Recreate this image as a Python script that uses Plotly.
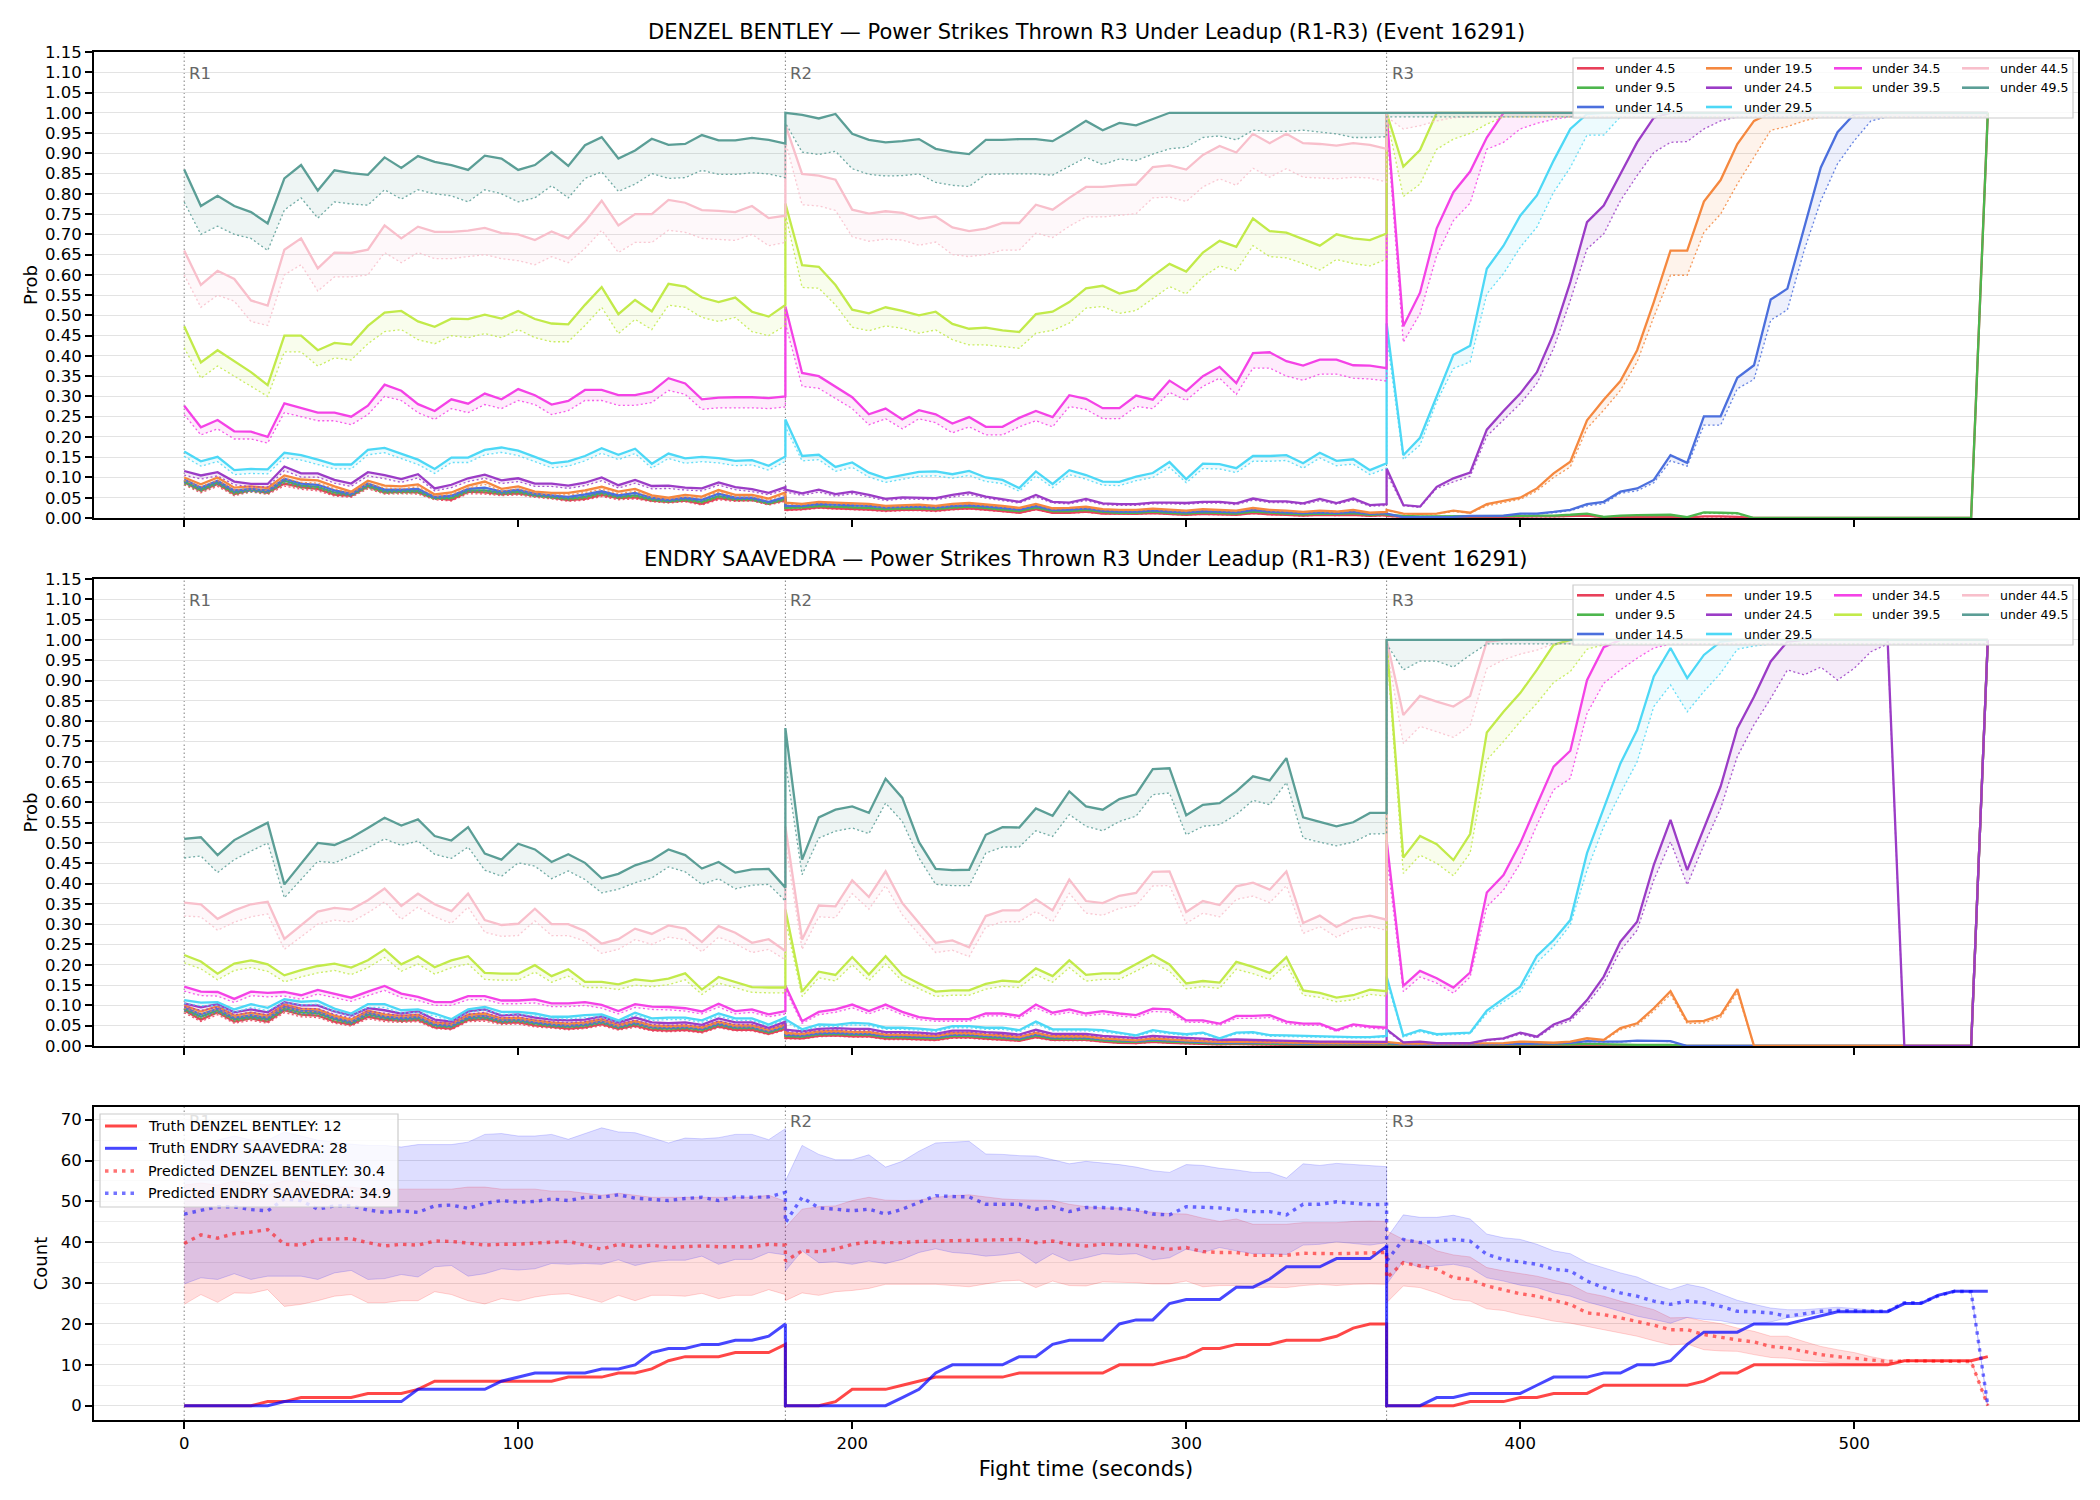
import plotly.graph_objects as go

# ---------------------------------------------------------------- time grid
STEP_TIMES = list(range(0, 181, 5))
ROUND_STARTS = [0, 180, 360]
ROUND_LABELS = ["R1", "R2", "R3"]
TIME = [s + t for s in ROUND_STARTS for t in STEP_TIMES]

THRESHOLDS = ["under 4.5", "under 9.5", "under 14.5", "under 19.5", "under 24.5",
              "under 29.5", "under 34.5", "under 39.5", "under 44.5", "under 49.5"]
COLORS = ["#e8405a", "#4db64d", "#4b6fdd", "#f5883f", "#9b3cc6",
          "#4dd8f6", "#f442e6", "#c2ea4a", "#f8bfcb", "#5b9e96"]

TITLE_D = "DENZEL BENTLEY \u2014 Power Strikes Thrown R3 Under Leadup (R1-R3) (Event 16291)"
TITLE_E = "ENDRY SAAVEDRA \u2014 Power Strikes Thrown R3 Under Leadup (R1-R3) (Event 16291)"

# ================================================================ DENZEL BENTLEY
D_U4 = ([0.088,0.067,0.084,0.059,0.069,0.062,0.085,0.076,0.072,0.058,0.055,0.078,0.063,0.065,0.063,0.049,0.045,0.065,0.063,0.059,0.061,0.055,0.051,0.044,0.047,0.057,0.049,0.051,0.043,0.04,0.043,0.035,0.049,0.044,0.045,0.035,0.044]
        + [0.02,0.022,0.026,0.024,0.023,0.021,0.018,0.02,0.02,0.018,0.022,0.024,0.021,0.017,0.013,0.022,0.013,0.013,0.016,0.011,0.01,0.01,0.012,0.01,0.008,0.01,0.009,0.008,0.012,0.009,0.008,0.006,0.008,0.007,0.008,0.005,0.007]
        + [0.005,0.003,0.002,0.002,0.002,0.003,0.003,0.003,0.004,0.004,0.004,0.005,0.006,0.002,0.003,0.003,0.003,0.003,0.001,0.004,0.004,0.003] + [0.0]*14 + [1.0])
D_U4_LO = ([0.082,0.062,0.078,0.055,0.064,0.058,0.079,0.071,0.067,0.054,0.051,0.072,0.059,0.06,0.059,0.045,0.042,0.06,0.059,0.055,0.057,0.051,0.047,0.041,0.044,0.053,0.045,0.047,0.04,0.037,0.04,0.032,0.045,0.041,0.042,0.032,0.041]
           + [0.018,0.02,0.024,0.022,0.021,0.019,0.016,0.018,0.018,0.016,0.02,0.022,0.019,0.015,0.012,0.02,0.012,0.012,0.014,0.01,0.009,0.009,0.011,0.009,0.007,0.009,0.008,0.007,0.011,0.008,0.007,0.005,0.007,0.006,0.007,0.004,0.006]
           + [0.004,0.002,0.002,0.002,0.002,0.002,0.002,0.002,0.003,0.003,0.003,0.004,0.005,0.002,0.002,0.002,0.002,0.002,0.001,0.003,0.003,0.002] + [0.0]*14 + [1.0])
D_U9 = ([0.09,0.07,0.088,0.063,0.07,0.065,0.092,0.08,0.077,0.063,0.058,0.08,0.066,0.067,0.067,0.05,0.05,0.068,0.068,0.062,0.065,0.057,0.053,0.048,0.052,0.062,0.052,0.056,0.046,0.042,0.046,0.04,0.054,0.047,0.047,0.037,0.048]
        + [0.025,0.026,0.03,0.028,0.027,0.025,0.022,0.024,0.024,0.022,0.026,0.028,0.025,0.021,0.017,0.026,0.017,0.017,0.02,0.015,0.013,0.013,0.016,0.013,0.011,0.014,0.013,0.011,0.016,0.013,0.011,0.009,0.011,0.01,0.012,0.008,0.01]
        + [0.008,0.005,0.004,0.004,0.004,0.005,0.005,0.005,0.005,0.006,0.006,0.008,0.011,0.003,0.006,0.007,0.007,0.008,0.002,0.014,0.013,0.012] + [0.0]*14 + [1.0])
D_U9_LO = ([0.084,0.065,0.082,0.058,0.065,0.06,0.086,0.074,0.072,0.058,0.054,0.074,0.061,0.062,0.062,0.046,0.046,0.063,0.063,0.057,0.06,0.053,0.049,0.044,0.048,0.057,0.048,0.052,0.042,0.039,0.042,0.037,0.05,0.043,0.043,0.034,0.044]
           + [0.023,0.024,0.028,0.026,0.025,0.023,0.02,0.022,0.022,0.02,0.024,0.026,0.023,0.019,0.016,0.024,0.016,0.016,0.018,0.014,0.012,0.012,0.015,0.012,0.01,0.013,0.012,0.01,0.015,0.012,0.01,0.008,0.01,0.009,0.011,0.007,0.009]
           + [0.007,0.004,0.004,0.004,0.004,0.004,0.004,0.004,0.004,0.005,0.005,0.007,0.01,0.003,0.005,0.006,0.006,0.007,0.002,0.012,0.011,0.01] + [0.0]*14 + [1.0])
D_U14 = ([0.095,0.075,0.092,0.068,0.072,0.068,0.097,0.085,0.082,0.068,0.06,0.085,0.07,0.07,0.072,0.052,0.055,0.072,0.075,0.065,0.07,0.06,0.056,0.052,0.058,0.066,0.056,0.062,0.05,0.045,0.05,0.045,0.06,0.05,0.05,0.04,0.052]
         + [0.03,0.03,0.035,0.033,0.032,0.03,0.026,0.028,0.028,0.026,0.03,0.032,0.029,0.025,0.021,0.03,0.02,0.021,0.024,0.018,0.016,0.016,0.019,0.016,0.014,0.017,0.016,0.014,0.02,0.016,0.014,0.012,0.014,0.012,0.015,0.01,0.012]
         + [0.011,0.002,0.002,0.002,0.003,0.005,0.005,0.006,0.011,0.011,0.015,0.02,0.034,0.04,0.065,0.073,0.094,0.155,0.136,0.251,0.251,0.346,0.377,0.539,0.566,0.718,0.865,0.952,0.997] + [1.0]*8)
D_U14_LO = ([0.088,0.069,0.085,0.063,0.066,0.063,0.09,0.079,0.076,0.063,0.055,0.079,0.065,0.065,0.066,0.048,0.051,0.066,0.069,0.06,0.065,0.055,0.052,0.048,0.053,0.061,0.052,0.057,0.046,0.041,0.046,0.041,0.055,0.046,0.046,0.037,0.048]
            + [0.028,0.028,0.032,0.03,0.029,0.028,0.024,0.026,0.026,0.024,0.028,0.029,0.027,0.023,0.019,0.028,0.018,0.019,0.022,0.016,0.015,0.015,0.017,0.015,0.013,0.015,0.015,0.013,0.018,0.015,0.013,0.011,0.013,0.011,0.014,0.009,0.011]
            + [0.01,0.002,0.002,0.002,0.003,0.004,0.004,0.005,0.01,0.01,0.013,0.018,0.03,0.035,0.061,0.067,0.087,0.141,0.128,0.229,0.229,0.319,0.342,0.488,0.514,0.66,0.783,0.874,0.931,0.98] + [0.99]*7)
D_U19 = ([0.10,0.083,0.10,0.075,0.078,0.074,0.105,0.095,0.093,0.078,0.065,0.092,0.08,0.078,0.083,0.058,0.063,0.08,0.09,0.072,0.078,0.065,0.062,0.062,0.068,0.077,0.065,0.072,0.056,0.05,0.057,0.053,0.069,0.057,0.057,0.048,0.063]
         + [0.038,0.035,0.04,0.038,0.037,0.035,0.03,0.032,0.033,0.03,0.035,0.037,0.034,0.03,0.025,0.035,0.024,0.025,0.028,0.022,0.02,0.02,0.023,0.02,0.018,0.022,0.02,0.018,0.025,0.02,0.018,0.015,0.018,0.016,0.02,0.013,0.015]
         + [0.02,0.011,0.01,0.011,0.018,0.013,0.034,0.042,0.05,0.073,0.11,0.139,0.241,0.292,0.338,0.414,0.533,0.66,0.66,0.781,0.834,0.923,0.98] + [1.0]*14)
D_U19_LO = ([0.093,0.077,0.093,0.069,0.072,0.068,0.098,0.088,0.086,0.072,0.06,0.085,0.074,0.072,0.077,0.053,0.058,0.074,0.083,0.066,0.072,0.06,0.057,0.057,0.063,0.071,0.06,0.066,0.051,0.046,0.052,0.049,0.064,0.052,0.052,0.044,0.058]
            + [0.035,0.032,0.037,0.035,0.034,0.032,0.027,0.029,0.03,0.027,0.032,0.034,0.031,0.027,0.023,0.032,0.022,0.023,0.025,0.02,0.018,0.018,0.021,0.018,0.016,0.02,0.018,0.016,0.023,0.018,0.016,0.014,0.016,0.014,0.018,0.012,0.014]
            + [0.018,0.01,0.009,0.01,0.016,0.012,0.03,0.038,0.046,0.067,0.10,0.126,0.221,0.266,0.315,0.385,0.496,0.599,0.599,0.705,0.75,0.824,0.89,0.957,0.966,0.98] + [0.99]*11)
D_U24 = ([0.116,0.105,0.113,0.09,0.084,0.084,0.127,0.11,0.11,0.094,0.085,0.113,0.106,0.096,0.108,0.073,0.082,0.098,0.107,0.093,0.098,0.085,0.085,0.08,0.087,0.10,0.081,0.094,0.079,0.08,0.075,0.073,0.088,0.076,0.071,0.062,0.076]
         + [0.07,0.061,0.07,0.059,0.065,0.057,0.047,0.051,0.05,0.049,0.057,0.063,0.053,0.047,0.04,0.057,0.04,0.038,0.047,0.036,0.034,0.034,0.038,0.038,0.037,0.04,0.04,0.036,0.048,0.041,0.041,0.036,0.047,0.037,0.048,0.032,0.034]
         + [0.122,0.032,0.028,0.077,0.098,0.112,0.218,0.264,0.307,0.36,0.455,0.582,0.73,0.771,0.849,0.927,0.988] + [1.0]*20)
D_U24_LO = ([0.106,0.096,0.104,0.082,0.077,0.077,0.117,0.101,0.101,0.086,0.078,0.104,0.097,0.088,0.099,0.067,0.075,0.09,0.098,0.085,0.09,0.078,0.078,0.073,0.08,0.092,0.074,0.086,0.072,0.073,0.069,0.067,0.081,0.07,0.065,0.057,0.07]
            + [0.064,0.056,0.064,0.054,0.06,0.052,0.043,0.047,0.046,0.045,0.052,0.058,0.049,0.043,0.037,0.052,0.037,0.035,0.043,0.033,0.031,0.031,0.035,0.035,0.034,0.037,0.037,0.033,0.044,0.038,0.038,0.033,0.043,0.034,0.044,0.029,0.031]
            + [0.11,0.03,0.026,0.073,0.089,0.103,0.202,0.241,0.282,0.332,0.418,0.537,0.664,0.701,0.783,0.845,0.902,0.927,0.929,0.96,0.98] + [0.99]*16)
D_U29 = ([0.164,0.14,0.151,0.118,0.121,0.12,0.161,0.155,0.144,0.132,0.132,0.168,0.173,0.159,0.144,0.121,0.149,0.149,0.168,0.174,0.166,0.151,0.135,0.14,0.153,0.172,0.156,0.171,0.134,0.159,0.147,0.151,0.148,0.141,0.143,0.129,0.152]
         + [0.243,0.153,0.156,0.126,0.137,0.112,0.098,0.106,0.114,0.115,0.108,0.116,0.10,0.094,0.074,0.115,0.084,0.118,0.106,0.09,0.089,0.102,0.111,0.138,0.096,0.134,0.133,0.123,0.153,0.153,0.155,0.135,0.161,0.141,0.145,0.118,0.135]
         + [0.48,0.155,0.198,0.303,0.403,0.425,0.615,0.672,0.746,0.796,0.882,0.96,0.997] + [1.0]*24)
D_U29_LO = ([0.152,0.128,0.139,0.107,0.11,0.109,0.149,0.143,0.132,0.121,0.121,0.156,0.161,0.147,0.132,0.11,0.137,0.137,0.156,0.162,0.154,0.139,0.124,0.128,0.141,0.16,0.144,0.159,0.123,0.147,0.135,0.139,0.136,0.129,0.131,0.118,0.14]
            + [0.225,0.141,0.144,0.115,0.125,0.101,0.088,0.096,0.103,0.104,0.098,0.105,0.09,0.085,0.066,0.104,0.075,0.107,0.096,0.081,0.08,0.092,0.1,0.125,0.087,0.122,0.121,0.112,0.14,0.14,0.142,0.123,0.148,0.129,0.133,0.107,0.123]
            + [0.45,0.144,0.18,0.287,0.369,0.385,0.553,0.603,0.668,0.718,0.804,0.865,0.945,0.945,0.99] + [0.99]*22)
D_U34 = ([0.277,0.224,0.242,0.214,0.213,0.20,0.283,0.272,0.26,0.26,0.25,0.277,0.329,0.314,0.281,0.264,0.293,0.282,0.307,0.293,0.318,0.303,0.28,0.289,0.316,0.316,0.303,0.303,0.312,0.345,0.332,0.293,0.297,0.298,0.298,0.296,0.30]
         + [0.522,0.358,0.35,0.324,0.298,0.256,0.27,0.243,0.266,0.256,0.233,0.249,0.225,0.225,0.247,0.264,0.249,0.303,0.294,0.271,0.271,0.302,0.292,0.339,0.313,0.35,0.373,0.333,0.407,0.409,0.387,0.376,0.391,0.391,0.377,0.376,0.37]
         + [1.0,0.473,0.556,0.715,0.804,0.855,0.939] + [1.0]*30)
D_U34_LO = ([0.255,0.205,0.22,0.195,0.195,0.185,0.26,0.25,0.24,0.24,0.23,0.255,0.30,0.29,0.26,0.243,0.27,0.26,0.28,0.27,0.29,0.28,0.255,0.265,0.29,0.29,0.278,0.278,0.285,0.315,0.305,0.268,0.272,0.272,0.272,0.27,0.274]
            + [0.48,0.325,0.32,0.295,0.27,0.23,0.245,0.22,0.245,0.235,0.21,0.225,0.205,0.205,0.225,0.24,0.225,0.275,0.268,0.245,0.245,0.275,0.27,0.31,0.29,0.325,0.345,0.305,0.37,0.37,0.35,0.34,0.355,0.355,0.345,0.343,0.338]
            + [0.97,0.434,0.504,0.648,0.734,0.777,0.91,0.927,0.96,0.974,0.984] + [0.99]*26)
D_U39 = ([0.473,0.384,0.414,0.388,0.36,0.328,0.45,0.45,0.414,0.432,0.428,0.474,0.507,0.511,0.485,0.472,0.492,0.491,0.502,0.492,0.511,0.491,0.48,0.478,0.526,0.57,0.503,0.538,0.51,0.578,0.571,0.544,0.533,0.544,0.509,0.497,0.526]
         + [0.776,0.624,0.62,0.575,0.514,0.505,0.52,0.511,0.5,0.509,0.479,0.467,0.47,0.463,0.459,0.503,0.509,0.533,0.567,0.573,0.554,0.563,0.597,0.627,0.608,0.655,0.684,0.669,0.739,0.708,0.704,0.688,0.672,0.70,0.69,0.686,0.702]
         + [1.0,0.867,0.908] + [1.0]*34)
D_U39_LO = ([0.42,0.345,0.375,0.35,0.325,0.30,0.41,0.41,0.375,0.395,0.39,0.43,0.46,0.465,0.44,0.43,0.45,0.445,0.455,0.445,0.465,0.445,0.435,0.435,0.475,0.52,0.455,0.49,0.465,0.525,0.52,0.495,0.485,0.495,0.46,0.45,0.475]
            + [0.75,0.569,0.567,0.526,0.471,0.462,0.474,0.468,0.456,0.464,0.44,0.427,0.427,0.423,0.419,0.456,0.463,0.481,0.518,0.522,0.505,0.512,0.542,0.571,0.553,0.595,0.622,0.61,0.672,0.645,0.642,0.628,0.612,0.638,0.628,0.622,0.639]
            + [0.99,0.793,0.824,0.91,0.935,0.949,0.972] + [0.99]*30)
D_U44 = ([0.66,0.575,0.61,0.59,0.537,0.524,0.662,0.69,0.616,0.655,0.654,0.662,0.722,0.69,0.719,0.706,0.706,0.709,0.716,0.703,0.70,0.686,0.707,0.69,0.732,0.783,0.722,0.75,0.75,0.785,0.778,0.76,0.758,0.755,0.77,0.74,0.746]
         + [0.97,0.849,0.845,0.835,0.761,0.751,0.757,0.753,0.739,0.744,0.717,0.708,0.714,0.728,0.728,0.773,0.761,0.79,0.817,0.817,0.821,0.823,0.866,0.87,0.86,0.896,0.918,0.902,0.948,0.925,0.948,0.925,0.923,0.919,0.925,0.921,0.911]
         + [1.0]*37)
D_U44_LO = ([0.60,0.52,0.55,0.535,0.485,0.475,0.60,0.625,0.56,0.595,0.595,0.60,0.655,0.63,0.655,0.64,0.64,0.645,0.65,0.64,0.635,0.625,0.645,0.63,0.665,0.71,0.655,0.68,0.68,0.71,0.705,0.69,0.688,0.685,0.70,0.672,0.68]
            + [0.93,0.773,0.77,0.759,0.694,0.683,0.688,0.686,0.673,0.681,0.65,0.645,0.65,0.661,0.661,0.703,0.692,0.72,0.743,0.743,0.747,0.751,0.79,0.792,0.781,0.817,0.837,0.821,0.863,0.841,0.862,0.841,0.839,0.837,0.841,0.839,0.829]
            + [0.99,0.96,0.968,0.98,0.988] + [0.99]*32)
D_U49 = ([0.86,0.77,0.795,0.77,0.755,0.727,0.838,0.871,0.808,0.858,0.851,0.847,0.89,0.864,0.893,0.879,0.871,0.859,0.894,0.887,0.859,0.871,0.903,0.869,0.92,0.94,0.887,0.907,0.936,0.921,0.923,0.945,0.932,0.932,0.938,0.933,0.924]
         + [1.0,0.995,0.986,0.997,0.948,0.933,0.927,0.93,0.935,0.911,0.903,0.898,0.933,0.933,0.935,0.935,0.93,0.954,0.98,0.957,0.975,0.969,0.985] + [1.0]*14
         + [1.0]*37)
D_U49_LO = ([0.78,0.70,0.72,0.70,0.69,0.66,0.76,0.79,0.74,0.78,0.775,0.772,0.81,0.787,0.81,0.80,0.795,0.78,0.81,0.80,0.78,0.79,0.82,0.79,0.838,0.854,0.806,0.824,0.85,0.838,0.84,0.858,0.848,0.848,0.852,0.849,0.84]
            + [0.975,0.903,0.897,0.905,0.862,0.848,0.844,0.845,0.849,0.828,0.821,0.818,0.848,0.849,0.849,0.849,0.846,0.867,0.89,0.872,0.886,0.882,0.898,0.911,0.915,0.939,0.943,0.933,0.957,0.954,0.954,0.957,0.952,0.948,0.939,0.939,0.941]
            + [0.99]*37)

# ================================================================ ENDRY SAAVEDRA
E_U4 = ([0.088,0.065,0.083,0.06,0.068,0.06,0.088,0.077,0.075,0.06,0.053,0.072,0.065,0.062,0.064,0.046,0.043,0.064,0.066,0.057,0.058,0.051,0.047,0.043,0.046,0.054,0.042,0.05,0.04,0.038,0.04,0.035,0.048,0.04,0.04,0.03,0.042]
        + [0.02,0.019,0.025,0.026,0.024,0.024,0.018,0.018,0.017,0.015,0.021,0.021,0.018,0.016,0.013,0.022,0.015,0.015,0.015,0.011,0.008,0.007,0.01,0.008,0.006,0.005,0.004,0.005,0.004,0.003,0.003,0.003,0.003,0.003,0.003,0.003,0.003]
        + [0.002]*18 + [0.0]*18 + [1.0])
E_U4_LO = ([0.082,0.06,0.077,0.056,0.063,0.056,0.082,0.072,0.07,0.056,0.049,0.067,0.06,0.058,0.06,0.043,0.04,0.06,0.061,0.053,0.054,0.047,0.044,0.04,0.043,0.05,0.039,0.046,0.037,0.035,0.037,0.032,0.045,0.037,0.037,0.028,0.039]
           + [0.018,0.017,0.023,0.024,0.022,0.022,0.016,0.016,0.015,0.013,0.019,0.019,0.016,0.014,0.012,0.02,0.013,0.013,0.013,0.01,0.007,0.006,0.009,0.007,0.005,0.004,0.003,0.004,0.003,0.002,0.002,0.002,0.002,0.002,0.002,0.002,0.002]
           + [0.001]*18 + [0.0]*18 + [1.0])
E_U9 = ([0.092,0.072,0.088,0.066,0.072,0.066,0.093,0.083,0.081,0.066,0.057,0.078,0.07,0.066,0.069,0.051,0.048,0.069,0.071,0.061,0.063,0.056,0.051,0.048,0.051,0.059,0.046,0.055,0.045,0.043,0.045,0.04,0.053,0.045,0.045,0.034,0.047]
        + [0.025,0.023,0.029,0.03,0.028,0.028,0.022,0.022,0.021,0.019,0.025,0.025,0.022,0.02,0.016,0.026,0.018,0.018,0.018,0.014,0.011,0.01,0.013,0.011,0.009,0.008,0.006,0.007,0.006,0.005,0.005,0.004,0.004,0.004,0.004,0.004,0.004]
        + [0.004,0.003,0.003,0.003,0.003,0.003,0.003,0.003,0.003,0.003,0.003,0.004,0.005,0.004,0.004,0.003,0.003,0.003] + [0.0]*18 + [1.0])
E_U9_LO = ([0.086,0.067,0.082,0.061,0.067,0.061,0.087,0.077,0.075,0.061,0.053,0.073,0.065,0.061,0.064,0.047,0.045,0.064,0.066,0.057,0.059,0.052,0.047,0.045,0.047,0.055,0.043,0.051,0.042,0.04,0.042,0.037,0.049,0.042,0.042,0.032,0.044]
           + [0.023,0.021,0.027,0.028,0.026,0.026,0.02,0.02,0.019,0.017,0.023,0.023,0.02,0.018,0.015,0.024,0.016,0.016,0.016,0.013,0.01,0.009,0.012,0.01,0.008,0.007,0.005,0.006,0.005,0.004,0.004,0.003,0.003,0.003,0.003,0.003,0.003]
           + [0.003,0.002,0.002,0.002,0.002,0.002,0.002,0.002,0.002,0.002,0.002,0.003,0.004,0.003,0.003,0.002,0.002,0.002] + [0.0]*18 + [1.0])
E_U14 = ([0.095,0.078,0.092,0.07,0.076,0.07,0.097,0.087,0.085,0.07,0.06,0.082,0.073,0.069,0.072,0.054,0.051,0.072,0.075,0.064,0.066,0.059,0.054,0.051,0.054,0.062,0.049,0.058,0.048,0.046,0.048,0.043,0.056,0.048,0.048,0.037,0.05]
         + [0.028,0.026,0.032,0.033,0.031,0.031,0.025,0.025,0.024,0.022,0.028,0.028,0.025,0.023,0.019,0.029,0.021,0.021,0.021,0.017,0.014,0.012,0.016,0.014,0.012,0.01,0.008,0.009,0.008,0.007,0.007,0.006,0.006,0.006,0.006,0.006,0.006]
         + [0.008,0.004,0.004,0.004,0.004,0.004,0.004,0.005,0.005,0.006,0.006,0.008,0.012,0.011,0.011,0.013,0.013,0.012] + [0.0]*18 + [1.0])
E_U14_LO = ([0.088,0.072,0.085,0.065,0.07,0.065,0.09,0.08,0.079,0.065,0.055,0.076,0.068,0.064,0.067,0.05,0.047,0.067,0.069,0.059,0.061,0.055,0.05,0.047,0.05,0.057,0.045,0.054,0.044,0.043,0.044,0.04,0.052,0.044,0.044,0.034,0.046]
            + [0.026,0.024,0.029,0.03,0.028,0.028,0.023,0.023,0.022,0.02,0.026,0.026,0.023,0.021,0.017,0.027,0.019,0.019,0.019,0.015,0.013,0.011,0.015,0.013,0.011,0.009,0.007,0.008,0.007,0.006,0.006,0.005,0.005,0.005,0.005,0.005,0.005]
            + [0.007,0.003,0.003,0.003,0.003,0.003,0.003,0.004,0.004,0.005,0.005,0.007,0.011,0.01,0.01,0.012,0.012,0.011] + [0.0]*18 + [1.0])
E_U19 = ([0.1,0.085,0.098,0.075,0.082,0.075,0.102,0.092,0.09,0.075,0.065,0.087,0.078,0.074,0.077,0.058,0.055,0.077,0.08,0.068,0.07,0.063,0.058,0.055,0.058,0.066,0.052,0.062,0.051,0.049,0.051,0.046,0.06,0.051,0.051,0.04,0.053]
         + [0.032,0.03,0.036,0.037,0.035,0.035,0.028,0.028,0.027,0.025,0.032,0.032,0.028,0.026,0.022,0.033,0.024,0.024,0.024,0.019,0.016,0.014,0.019,0.016,0.014,0.012,0.01,0.011,0.01,0.009,0.008,0.008,0.007,0.007,0.007,0.007,0.007]
         + [0.01,0.006,0.006,0.006,0.006,0.006,0.006,0.007,0.011,0.009,0.008,0.011,0.019,0.015,0.044,0.056,0.093,0.135,0.06,0.062,0.076,0.14] + [0.0]*14 + [1.0])
E_U19_LO = ([0.093,0.079,0.091,0.07,0.076,0.07,0.095,0.086,0.084,0.07,0.06,0.081,0.073,0.069,0.072,0.054,0.051,0.072,0.074,0.063,0.065,0.059,0.054,0.051,0.054,0.061,0.048,0.058,0.047,0.046,0.047,0.043,0.056,0.047,0.047,0.037,0.049]
            + [0.029,0.027,0.033,0.034,0.032,0.032,0.026,0.026,0.025,0.023,0.029,0.029,0.026,0.024,0.02,0.03,0.022,0.022,0.022,0.017,0.015,0.013,0.017,0.015,0.013,0.011,0.009,0.01,0.009,0.008,0.007,0.007,0.006,0.006,0.006,0.006,0.006]
            + [0.009,0.005,0.005,0.005,0.005,0.005,0.005,0.006,0.01,0.008,0.007,0.01,0.017,0.013,0.04,0.051,0.086,0.127,0.055,0.057,0.07,0.132] + [0.0]*14 + [1.0])
E_U24 = ([0.105,0.095,0.103,0.083,0.09,0.083,0.108,0.1,0.1,0.085,0.075,0.093,0.088,0.08,0.085,0.065,0.06,0.085,0.09,0.075,0.078,0.07,0.065,0.063,0.065,0.073,0.058,0.07,0.058,0.056,0.058,0.052,0.068,0.058,0.058,0.045,0.06]
         + [0.04,0.036,0.042,0.044,0.042,0.042,0.034,0.034,0.033,0.03,0.038,0.038,0.034,0.032,0.028,0.04,0.03,0.03,0.03,0.025,0.022,0.02,0.025,0.022,0.02,0.018,0.015,0.016,0.015,0.013,0.012,0.012,0.011,0.011,0.011,0.01,0.01]
         + [0.041,0.009,0.011,0.007,0.007,0.007,0.015,0.019,0.033,0.023,0.053,0.068,0.113,0.171,0.257,0.306,0.446,0.557,0.433,0.534,0.639,0.782,0.86,0.947,0.996] + [1.0]*6 + [0.0]*5 + [1.0])
E_U24_LO = ([0.097,0.088,0.095,0.077,0.083,0.077,0.1,0.092,0.092,0.078,0.069,0.086,0.081,0.074,0.078,0.06,0.055,0.078,0.083,0.069,0.072,0.064,0.06,0.058,0.06,0.067,0.053,0.064,0.053,0.051,0.053,0.048,0.062,0.053,0.053,0.041,0.055]
            + [0.036,0.033,0.038,0.04,0.038,0.038,0.031,0.031,0.03,0.027,0.034,0.034,0.031,0.029,0.025,0.036,0.027,0.027,0.027,0.022,0.02,0.018,0.022,0.02,0.018,0.016,0.013,0.014,0.013,0.012,0.011,0.011,0.01,0.01,0.01,0.009,0.009]
            + [0.037,0.008,0.01,0.006,0.006,0.006,0.013,0.017,0.029,0.02,0.048,0.062,0.103,0.155,0.235,0.285,0.409,0.503,0.397,0.495,0.585,0.713,0.791,0.856,0.926,0.914,0.933,0.901,0.93,0.971,0.99] + [0.0]*5 + [1.0])
E_U29 = ([0.113,0.107,0.108,0.09,0.103,0.094,0.115,0.109,0.111,0.092,0.08,0.103,0.103,0.088,0.09,0.08,0.066,0.09,0.096,0.084,0.084,0.08,0.072,0.072,0.076,0.078,0.063,0.082,0.068,0.07,0.07,0.063,0.08,0.068,0.068,0.053,0.07]
         + [0.066,0.041,0.053,0.052,0.057,0.055,0.045,0.045,0.043,0.039,0.049,0.049,0.045,0.045,0.039,0.06,0.041,0.041,0.041,0.039,0.033,0.026,0.039,0.033,0.029,0.033,0.019,0.033,0.034,0.027,0.026,0.025,0.023,0.022,0.022,0.022,0.025]
         + [0.171,0.025,0.039,0.029,0.031,0.033,0.087,0.117,0.146,0.222,0.261,0.31,0.475,0.585,0.696,0.778,0.91,0.98,0.906,0.963,0.996] + [1.0]*16)
E_U29_LO = ([0.105,0.099,0.1,0.083,0.095,0.087,0.107,0.101,0.103,0.085,0.074,0.095,0.095,0.081,0.083,0.074,0.061,0.083,0.089,0.078,0.078,0.074,0.067,0.067,0.07,0.072,0.058,0.076,0.063,0.065,0.065,0.058,0.074,0.063,0.063,0.049,0.065]
            + [0.06,0.037,0.048,0.047,0.052,0.05,0.041,0.041,0.039,0.035,0.045,0.045,0.041,0.041,0.035,0.055,0.037,0.037,0.037,0.035,0.03,0.023,0.035,0.03,0.026,0.03,0.017,0.03,0.031,0.024,0.023,0.022,0.021,0.02,0.02,0.02,0.022]
            + [0.16,0.022,0.035,0.026,0.028,0.03,0.08,0.109,0.134,0.205,0.245,0.298,0.433,0.54,0.622,0.70,0.836,0.889,0.823,0.873,0.918,0.977,0.985] + [0.99]*14)
E_U34 = ([0.146,0.134,0.133,0.116,0.134,0.131,0.133,0.125,0.138,0.129,0.119,0.134,0.148,0.129,0.121,0.108,0.108,0.123,0.123,0.112,0.112,0.115,0.105,0.105,0.108,0.101,0.086,0.103,0.097,0.096,0.093,0.085,0.104,0.086,0.09,0.078,0.086]
         + [0.149,0.061,0.084,0.09,0.102,0.086,0.102,0.084,0.071,0.066,0.066,0.066,0.08,0.08,0.074,0.102,0.082,0.09,0.08,0.086,0.08,0.076,0.092,0.09,0.063,0.063,0.055,0.074,0.074,0.076,0.06,0.055,0.055,0.039,0.053,0.048,0.045]
         + [0.507,0.148,0.185,0.167,0.144,0.181,0.378,0.421,0.499,0.594,0.688,0.727,0.901,0.982] + [1.0]*23)
E_U34_LO = ([0.135,0.124,0.123,0.107,0.124,0.121,0.123,0.115,0.128,0.119,0.11,0.124,0.137,0.119,0.112,0.1,0.1,0.114,0.114,0.104,0.104,0.106,0.097,0.097,0.1,0.093,0.079,0.095,0.09,0.089,0.086,0.079,0.096,0.079,0.083,0.072,0.079]
            + [0.138,0.056,0.077,0.083,0.094,0.079,0.094,0.077,0.065,0.061,0.061,0.061,0.074,0.074,0.068,0.094,0.076,0.083,0.074,0.079,0.074,0.07,0.085,0.083,0.058,0.058,0.051,0.068,0.068,0.07,0.055,0.051,0.051,0.036,0.049,0.044,0.041]
            + [0.47,0.134,0.17,0.155,0.13,0.17,0.343,0.384,0.45,0.544,0.631,0.659,0.819,0.893,0.926,0.955,0.98] + [0.99]*20)
E_U39 = ([0.224,0.208,0.178,0.203,0.211,0.201,0.174,0.187,0.197,0.203,0.193,0.211,0.238,0.201,0.221,0.194,0.211,0.221,0.18,0.178,0.178,0.199,0.172,0.189,0.158,0.158,0.152,0.164,0.16,0.166,0.179,0.139,0.17,0.158,0.145,0.144,0.144]
         + [0.336,0.134,0.183,0.175,0.219,0.176,0.221,0.175,0.154,0.134,0.137,0.137,0.153,0.161,0.158,0.191,0.172,0.211,0.175,0.179,0.179,0.202,0.224,0.201,0.154,0.16,0.156,0.207,0.195,0.18,0.219,0.137,0.131,0.119,0.125,0.139,0.135]
         + [1.0,0.464,0.517,0.497,0.458,0.522,0.772,0.823,0.869,0.926,0.988] + [1.0]*26)
E_U39_LO = ([0.205,0.19,0.163,0.186,0.193,0.184,0.158,0.17,0.18,0.186,0.176,0.193,0.218,0.184,0.202,0.177,0.193,0.202,0.164,0.162,0.162,0.182,0.157,0.172,0.144,0.144,0.139,0.15,0.146,0.151,0.163,0.127,0.155,0.144,0.132,0.131,0.131]
            + [0.31,0.122,0.168,0.16,0.2,0.161,0.202,0.16,0.141,0.122,0.125,0.125,0.14,0.147,0.144,0.175,0.157,0.193,0.16,0.164,0.164,0.185,0.205,0.184,0.141,0.146,0.142,0.189,0.178,0.164,0.2,0.125,0.12,0.109,0.114,0.127,0.123]
            + [0.98,0.425,0.47,0.45,0.419,0.475,0.704,0.75,0.799,0.844,0.895,0.922,0.977,0.988] + [0.99]*23)
E_U44 = ([0.353,0.349,0.313,0.334,0.349,0.355,0.264,0.297,0.331,0.34,0.336,0.359,0.388,0.345,0.375,0.349,0.332,0.375,0.31,0.298,0.301,0.338,0.30,0.30,0.283,0.252,0.263,0.289,0.276,0.297,0.289,0.256,0.295,0.279,0.254,0.263,0.234]
         + [0.54,0.262,0.346,0.344,0.408,0.367,0.43,0.352,0.303,0.254,0.26,0.243,0.32,0.334,0.334,0.361,0.334,0.41,0.357,0.352,0.37,0.377,0.429,0.43,0.33,0.357,0.347,0.393,0.402,0.385,0.43,0.303,0.321,0.293,0.314,0.321,0.311]
         + [1.0,0.815,0.862,0.848,0.836,0.862,0.996] + [1.0]*30)
E_U44_LO = ([0.32,0.318,0.285,0.305,0.318,0.325,0.238,0.27,0.30,0.31,0.305,0.328,0.355,0.312,0.342,0.318,0.302,0.342,0.28,0.27,0.272,0.308,0.272,0.272,0.258,0.228,0.238,0.262,0.25,0.268,0.262,0.232,0.268,0.252,0.23,0.238,0.212]
            + [0.50,0.238,0.318,0.316,0.375,0.337,0.395,0.323,0.275,0.23,0.236,0.22,0.293,0.306,0.306,0.331,0.306,0.376,0.327,0.322,0.339,0.346,0.394,0.395,0.302,0.327,0.318,0.361,0.369,0.353,0.395,0.277,0.294,0.268,0.288,0.294,0.285]
            + [0.98,0.745,0.787,0.774,0.76,0.789,0.93,0.951,0.965,0.975] + [0.99]*27)
E_U49 = ([0.51,0.514,0.47,0.507,0.529,0.55,0.398,0.45,0.50,0.495,0.513,0.537,0.562,0.543,0.558,0.517,0.506,0.539,0.474,0.459,0.498,0.484,0.453,0.472,0.451,0.413,0.424,0.445,0.458,0.484,0.47,0.437,0.453,0.427,0.435,0.436,0.39]
         + [0.783,0.459,0.563,0.582,0.59,0.574,0.658,0.611,0.502,0.436,0.433,0.434,0.52,0.539,0.538,0.585,0.567,0.627,0.59,0.582,0.608,0.62,0.682,0.684,0.568,0.594,0.598,0.627,0.664,0.654,0.709,0.563,0.552,0.541,0.551,0.574,0.574]
         + [1.0]*37)
E_U49_LO = ([0.463,0.468,0.427,0.459,0.48,0.50,0.365,0.41,0.455,0.451,0.468,0.488,0.51,0.494,0.505,0.472,0.462,0.49,0.433,0.418,0.451,0.443,0.412,0.431,0.41,0.377,0.386,0.402,0.414,0.441,0.429,0.398,0.412,0.387,0.396,0.398,0.357]
            + [0.70,0.422,0.512,0.529,0.537,0.523,0.598,0.553,0.463,0.398,0.395,0.395,0.475,0.49,0.49,0.53,0.516,0.57,0.541,0.53,0.553,0.566,0.619,0.623,0.52,0.541,0.545,0.57,0.605,0.594,0.649,0.512,0.502,0.493,0.502,0.522,0.523]
            + [0.99,0.926,0.948,0.948,0.933,0.963] + [0.99]*31)

# ================================================================ counts (bottom panel)
TRUTH_D = ([0,0,0,0,0,1,1,2,2,2,2,3,3,3,4,6,6,6,6,6,6,6,6,7,7,7,8,8,9,11,12,12,12,13,13,13,15]
           + [0,0,0,1,4,4,4,5,6,7,7,7,7,7,8,8,8,8,8,8,10,10,10,11,12,14,14,15,15,15,16,16,16,17,19,20,20]
           + [0,0,0,0,0,1,1,1,2,2,3,3,3,5,5,5,5,5,5,6,8,8,10,10,10,10,10,10,10,10,10,11,11,11,11,11,12])
TRUTH_E = ([0,0,0,0,0,0,1,1,1,1,1,1,1,1,4,4,4,4,4,6,7,8,8,8,8,9,9,10,13,14,14,15,15,16,16,17,20]
           + [0,0,0,0,0,0,0,2,4,8,10,10,10,10,12,12,15,16,16,16,20,21,21,25,26,26,26,29,29,31,34,34,34,36,36,36,39]
           + [0,0,0,2,2,3,3,3,3,5,7,7,7,8,8,10,10,11,15,18,18,18,20,20,20,21,22,23,23,23,23,25,25,27,28,28,28])
PRED_D = ([39.7,41.8,41,42.1,42.5,43.1,39.5,39.3,40.7,40.7,40.9,39.9,39.1,39.5,39.3,40.3,40.2,39.8,39.3,39.5,39.5,39.8,39.9,40.2,39.3,38.3,39.5,38.9,39.3,38.7,38.9,39.1,38.9,39,38.9,39.5,39.3]
          + [35.4,37.9,37.7,38.3,39.5,40.1,39.9,39.9,40.2,40.3,40.5,40.5,40.6,40.7,40.7,39.9,40.3,39.5,39.1,39.5,39.5,39.3,38.7,38.3,38.7,37.7,37.5,37.5,36.8,36.8,36.8,37.3,37.2,37.2,37.3,37.5,37.5]
          + [31.3,35,34.2,33.4,31.3,30.9,29.3,28.4,27.4,26.8,25.7,24.8,22.7,22.3,21.5,20.7,19.7,18.6,18.6,17.4,16.7,16.1,15.6,14.5,14.1,13.3,12.5,12,11.6,11.4,10.8,11,11,11,11,10.8,0])
PRED_E = ([46.9,47.7,48.7,48.7,48,47.7,50.6,50.2,48.1,48.9,48.9,47.9,47.3,47.7,47.3,48.9,49.1,48.3,49.5,50.2,49.8,50,50.6,50.2,51,51,51.6,50.8,50.4,50.2,50.7,51,50.2,51.1,51,51.1,52.2]
          + [44.8,51,48.4,48.1,47.7,48.1,46.9,48.1,49.8,51.4,51.2,51.1,49.3,49.2,49.3,48.1,48.7,47.5,48.5,48.5,48.3,48,46.9,46.7,48.7,48.5,48.4,47.9,47.5,47.5,46.7,49.3,49.3,49.9,49.5,49.2,49.3]
          + [35.4,40.7,39.9,40.2,40.7,40.3,37,35.8,35.2,34.6,33.4,33,30.5,28.9,27.6,26.8,25.6,24.8,25.6,25.2,24.3,23.1,23,22.7,21.9,22.5,23.1,23.3,23.3,23.1,23.1,25.2,25.2,26.8,28,27.9,0])
BAND_D_HI = ([54,54.5,54,55,54.5,54,55,55,54.5,53.5,53.5,53,53,53,53,53,53,53.5,53.5,53,53,53,52.5,52.5,52,51.5,52,51.5,51,51,51,51,51,51,51,51.5,50]
             + [43.6,48.1,48.7,48.9,50.2,51,50.3,50.2,50.3,51,51.4,51.6,51.1,50.6,50.4,50.3,50.2,49.3,48.7,48.4,48.4,47.7,47.3,47,46.9,45.9,45.1,45.7,44.4,44.4,44.4,44.8,44.8,44.8,45.1,45.2,45.1]
             + [42.8,40.7,40.2,37.9,36.9,36.4,33.8,33,32.3,31.7,30.7,29.7,27.6,26.8,25.6,24.6,23.5,21.5,21.6,20.7,20.1,19,18.2,17,17,15.7,14.5,13.7,13,12,11.2,11,11,11,11,11,0])
BAND_D_LO = ([24.8,27.2,25.3,27.6,27.5,28.4,24.3,24.8,25.7,26.8,27.2,25.2,25.2,25.7,25.7,27.9,27.2,25.7,24.9,26.2,25.6,26.6,27.2,27.4,26.4,25.3,27,25.7,27,27,26.8,27.5,26.2,27,27,28.4,27.2]
             + [25.7,27.6,27,27.9,28.2,28.7,29.7,29.7,29.7,29.7,29.4,29.1,29.8,30.5,30.7,28.9,30.5,29.4,29.3,30.3,30.2,30.1,29.8,29.8,30.5,29.1,29.4,29.4,28.9,29,28.9,29.4,29.7,29.4,29.7,29.8,29.7]
             + [25.2,29.3,28.9,27.6,26,25.6,23.7,23.3,22.3,21.6,20.7,20.2,19.4,18.6,17.8,17,15.9,14.9,15.1,13.7,13.4,13.3,12.5,11.8,11.6,11,10.8,10.4,10,10,10.4,10.8,10.8,10.8,10.8,10.8,0])
BAND_E_HI = ([62,64,65,66,65,65,67,66,65,64.5,64,63.7,63.7,63.3,63.9,63.9,63.9,64.5,66.4,66.6,66,66,66.4,65.2,66.6,68,67,66.8,65.6,64.3,65.5,65.3,65.6,66.4,66.4,65.1,67.8]
             + [55,63.7,61.5,60.2,60.2,61.4,58.4,59.8,62.3,64.3,64.5,64.7,61.6,61.5,61.2,61.1,60.2,59.2,59.8,59.4,59,58.4,57.5,57.1,59,58.8,58.1,57.7,57.1,57.1,55.7,59.2,58.8,59.3,59,58.8,58.5]
             + [41,46.7,46.1,46.1,46.6,45.7,42,41.1,40.7,39.5,37.9,37.2,35,33.8,32.5,31.5,29.7,28.4,29.7,28.9,27.4,25.8,24.8,23.9,23.5,23.5,23.8,24.1,23.8,23.5,23.1,25.2,25.2,26.8,28,27.9,0])
BAND_E_LO = ([29.8,31.3,30.9,32.3,30.9,31.7,31.7,31.7,30.9,32.5,33.1,30.9,31.1,32.1,31.5,34,34.3,31.7,32.3,33.5,33.2,33.5,34.8,34.6,34.8,34.6,35.7,34.3,35.2,35.6,35.6,36.6,34.6,35.8,35.8,37.5,36.9]
             + [33,37.9,35,35.2,34.6,35.4,34.8,35.8,37.5,38.4,37.5,37.2,36.6,36.9,37.5,34.8,37.2,35.4,36.2,37.2,37,37.2,35.7,36.2,38.3,37.5,38.7,37.9,37.2,37.2,37,39.3,39.5,40.1,39.7,39.3,39.9]
             + [29.7,35.4,33.8,34.2,34.6,33.8,31.3,30.5,29.5,28.9,27.6,26.8,25.4,24.3,23.1,21.9,21.1,20.2,21.6,21.1,20.8,20,20,20.5,21.5,21.9,22.7,23.1,23,23,23,25.2,25.2,26.8,28,27.9,0])

LEGEND_BOTTOM = ["Truth DENZEL BENTLEY: 12", "Truth ENDRY SAAVEDRA: 28",
                 "Predicted DENZEL BENTLEY: 30.4", "Predicted ENDRY SAAVEDRA: 34.9"]

D_SOLID = [D_U4, D_U9, D_U14, D_U19, D_U24, D_U29, D_U34, D_U39, D_U44, D_U49]
D_LOWER = [D_U4_LO, D_U9_LO, D_U14_LO, D_U19_LO, D_U24_LO, D_U29_LO, D_U34_LO, D_U39_LO, D_U44_LO, D_U49_LO]
E_SOLID = [E_U4, E_U9, E_U14, E_U19, E_U24, E_U29, E_U34, E_U39, E_U44, E_U49]
E_LOWER = [E_U4_LO, E_U9_LO, E_U14_LO, E_U19_LO, E_U24_LO, E_U29_LO, E_U34_LO, E_U39_LO, E_U44_LO, E_U49_LO]

for _s in D_SOLID + D_LOWER + E_SOLID + E_LOWER + [TRUTH_D, TRUTH_E, PRED_D, PRED_E,
                                                  BAND_D_HI, BAND_D_LO, BAND_E_HI, BAND_E_LO]:
    assert len(_s) == len(TIME), len(_s)

# ---------------------------------------------------------------- layout helpers
W, H = 2100, 1500
ML, MR, MT, MB = 94, 22, 52, 80
PW, PH = W - ML - MR, H - MT - MB
FONT = "DejaVu Sans"


def pxx(x):
    return (x - ML) / PW


def pxy(y):
    return 1 - (y - MT) / PH


def rgba(hexc, a):
    h = hexc.lstrip("#")
    return "rgba(%d,%d,%d,%s)" % (int(h[0:2], 16), int(h[2:4], 16), int(h[4:6], 16), a)


PANEL_TOP = [52, 579, 1107]
PANEL_BOT = [518, 1046, 1420]

fig = go.Figure()


def add_prob_panel(solids, lowers, xa, ya):
    for name, color, s, lo in zip(THRESHOLDS, COLORS, solids, lowers):
        fig.add_trace(go.Scatter(x=TIME, y=lo, mode="lines", xaxis=xa, yaxis=ya,
                                 line=dict(color=rgba(color, 0.85), width=1.3, dash="2px,2.5px"),
                                 showlegend=False, hoverinfo="skip"))
        fig.add_trace(go.Scatter(x=TIME, y=s, mode="lines", xaxis=xa, yaxis=ya, name=name,
                                 line=dict(color=color, width=2.3), fill="tonexty",
                                 fillcolor=rgba(color, 0.1), showlegend=False))


add_prob_panel(D_SOLID, D_LOWER, "x", "y")
add_prob_panel(E_SOLID, E_LOWER, "x2", "y2")

# bottom panel
RED, BLUE = "#ff0000", "#0000ff"
for lo, hi, c in [(BAND_D_LO, BAND_D_HI, RED), (BAND_E_LO, BAND_E_HI, BLUE)]:
    fig.add_trace(go.Scatter(x=TIME, y=lo, mode="lines", xaxis="x3", yaxis="y3",
                             line=dict(color=rgba(c, 0.16), width=1), showlegend=False, hoverinfo="skip"))
    fig.add_trace(go.Scatter(x=TIME, y=hi, mode="lines", xaxis="x3", yaxis="y3", fill="tonexty",
                             fillcolor=rgba(c, 0.13), line=dict(color=rgba(c, 0.16), width=1),
                             showlegend=False, hoverinfo="skip"))
fig.add_trace(go.Scatter(x=TIME, y=TRUTH_D, mode="lines", xaxis="x3", yaxis="y3", name=LEGEND_BOTTOM[0],
                         line=dict(color=rgba(RED, 0.72), width=3), showlegend=False))
fig.add_trace(go.Scatter(x=TIME, y=TRUTH_E, mode="lines", xaxis="x3", yaxis="y3", name=LEGEND_BOTTOM[1],
                         line=dict(color=rgba(BLUE, 0.72), width=3), showlegend=False))
fig.add_trace(go.Scatter(x=TIME, y=PRED_D, mode="lines", xaxis="x3", yaxis="y3", name=LEGEND_BOTTOM[2],
                         line=dict(color=rgba(RED, 0.55), width=3.4, dash="3.5px,5px"), showlegend=False))
fig.add_trace(go.Scatter(x=TIME, y=PRED_E, mode="lines", xaxis="x3", yaxis="y3", name=LEGEND_BOTTOM[3],
                         line=dict(color=rgba(BLUE, 0.55), width=3.4, dash="3.5px,5px"), showlegend=False))

# ---------------------------------------------------------------- axes
XR = [-27, 567]
common_x = dict(range=XR, showgrid=False, zeroline=False, showline=True, mirror=True,
                linecolor="black", linewidth=1.7, ticks="outside", ticklen=7, tickwidth=1.6,
                tickcolor="black", tickvals=[0, 100, 200, 300, 400, 500], automargin=False,
                tickfont=dict(family=FONT, size=16.5, color="black"))
common_py = dict(range=[0, 1.15], dtick=0.05, tick0=0, tickformat=".2f", showgrid=True,
                 gridcolor="#e3e3e3", gridwidth=1, zeroline=False, showline=True, mirror=True,
                 linecolor="black", linewidth=1.7, ticks="outside", ticklen=7, tickwidth=1.6,
                 tickcolor="black", automargin=False,
                 tickfont=dict(family=FONT, size=16.5, color="black"),
                 title=dict(text="Prob", font=dict(family=FONT, size=18, color="black"), standoff=3))

fig.update_layout(
    width=W, height=H, margin=dict(l=ML, r=MR, t=MT, b=MB),
    paper_bgcolor="white", plot_bgcolor="white", showlegend=False,
    font=dict(family=FONT, color="black"),
    xaxis=dict(common_x, domain=[0, 1], anchor="y", showticklabels=False),
    xaxis2=dict(common_x, domain=[0, 1], anchor="y2", matches="x", showticklabels=False),
    xaxis3=dict(common_x, domain=[0, 1], anchor="y3", matches="x", showticklabels=True,
                title=dict(text="Fight time (seconds)", font=dict(family=FONT, size=21, color="black"),
                           standoff=10)),
    yaxis=dict(common_py, domain=[pxy(PANEL_BOT[0]), pxy(PANEL_TOP[0])], anchor="x"),
    yaxis2=dict(common_py, domain=[pxy(PANEL_BOT[1]), pxy(PANEL_TOP[1])], anchor="x2"),
    yaxis3=dict(range=[-3.5, 73.1], dtick=10, tick0=0, showgrid=True, gridcolor="#e3e3e3",
                gridwidth=1, zeroline=False, showline=True, mirror=True, linecolor="black",
                linewidth=1.7, ticks="outside", ticklen=7, tickwidth=1.6, tickcolor="black",
                automargin=False, anchor="x3",
                minor=dict(dtick=5, showgrid=True, gridcolor="#ececec", gridwidth=1, ticks=""),
                tickfont=dict(family=FONT, size=16.5, color="black"),
                domain=[pxy(PANEL_BOT[2]), pxy(PANEL_TOP[2])],
                title=dict(text="Count", font=dict(family=FONT, size=18, color="black"), standoff=9)),
)

shapes = []
annotations = []

# round separators + labels (the bottom-panel R1 label sits behind the translucent legend)
for k, (xa, ya) in enumerate([("x", "y"), ("x2", "y2"), ("x3", "y3")]):
    for start, lab in zip(ROUND_STARTS, ROUND_LABELS):
        shapes.append(dict(type="line", xref=xa, yref=ya + " domain", x0=start, x1=start, y0=0, y1=1,
                           line=dict(color="rgba(0,0,0,0.5)", width=1, dash="1.5px,2.5px"), layer="below"))
        hidden = (k == 2 and start == 0)
        annotations.append(dict(xref=xa, yref=ya + " domain", x=start, y=0.953 if k < 2 else 0.955,
                                xanchor="left", yanchor="middle", xshift=3, showarrow=False, text=lab,
                                font=dict(family=FONT, size=16.5,
                                          color="#e2e2e2" if hidden else "#666666")))

# titles
for k, title in enumerate([TITLE_D, TITLE_E]):
    annotations.append(dict(xref="paper", yref="paper", x=0.5, y=pxy(PANEL_TOP[k] - 6),
                             xanchor="center", yanchor="bottom", showarrow=False, text=title,
                             font=dict(family=FONT, size=21, color="black")))

# 4-column legends for the probability panels (matplotlib ncol=4, column-major)
LEG_COLS = [(1577, 1604, 1613), (1706, 1732, 1742), (1834, 1862, 1870), (1962, 1989, 1998)]
LEG_ROWS = [16.3, 35.7, 55.0]
COL_OF = [0, 0, 0, 1, 1, 1, 2, 2, 3, 3]
ROW_OF = [0, 1, 2, 0, 1, 2, 0, 1, 0, 1]
for top in PANEL_TOP[:2]:
    shapes.append(dict(type="rect", xref="paper", yref="paper", x0=pxx(1573), x1=pxx(2073),
                       y0=pxy(top + 66), y1=pxy(top + 6), fillcolor="rgba(255,255,255,0.8)",
                       line=dict(color="#cccccc", width=1.2), layer="above"))
    for i, (name, color) in enumerate(zip(THRESHOLDS, COLORS)):
        x0, x1, xt = LEG_COLS[COL_OF[i]]
        yy = top + LEG_ROWS[ROW_OF[i]]
        shapes.append(dict(type="line", xref="paper", yref="paper", x0=pxx(x0), x1=pxx(x1),
                           y0=pxy(yy), y1=pxy(yy), line=dict(color=color, width=2.6), layer="above"))
        annotations.append(dict(xref="paper", yref="paper", x=pxx(xt), y=pxy(yy), xanchor="left",
                                yanchor="middle", showarrow=False, text=name,
                                font=dict(family=FONT, size=12.5, color="black")))

# bottom legend
shapes.append(dict(type="rect", xref="paper", yref="paper", x0=pxx(100), x1=pxx(398),
                   y0=pxy(1207), y1=pxy(1114), fillcolor="rgba(255,255,255,0.8)",
                   line=dict(color="#cccccc", width=1.2), layer="above"))
B_ROWS = [1126, 1148.3, 1171, 1193.3]
B_STYLE = [(rgba(RED, 0.72), None, 3), (rgba(BLUE, 0.72), None, 3),
           (rgba(RED, 0.55), "3.5px,5px", 3.4), (rgba(BLUE, 0.55), "3.5px,5px", 3.4)]
for yy, lab, (c, dash, wd) in zip(B_ROWS, LEGEND_BOTTOM, B_STYLE):
    ln = dict(color=c, width=wd)
    if dash:
        ln["dash"] = dash
    shapes.append(dict(type="line", xref="paper", yref="paper", x0=pxx(105), x1=pxx(137),
                       y0=pxy(yy), y1=pxy(yy), line=ln, layer="above"))
    annotations.append(dict(xref="paper", yref="paper", x=pxx(146), y=pxy(yy), xanchor="left",
                            yanchor="middle", showarrow=False, text=lab,
                            font=dict(family=FONT, size=14.3, color="black")))

fig.update_layout(shapes=shapes, annotations=annotations)
fig.write_html("out.html")
